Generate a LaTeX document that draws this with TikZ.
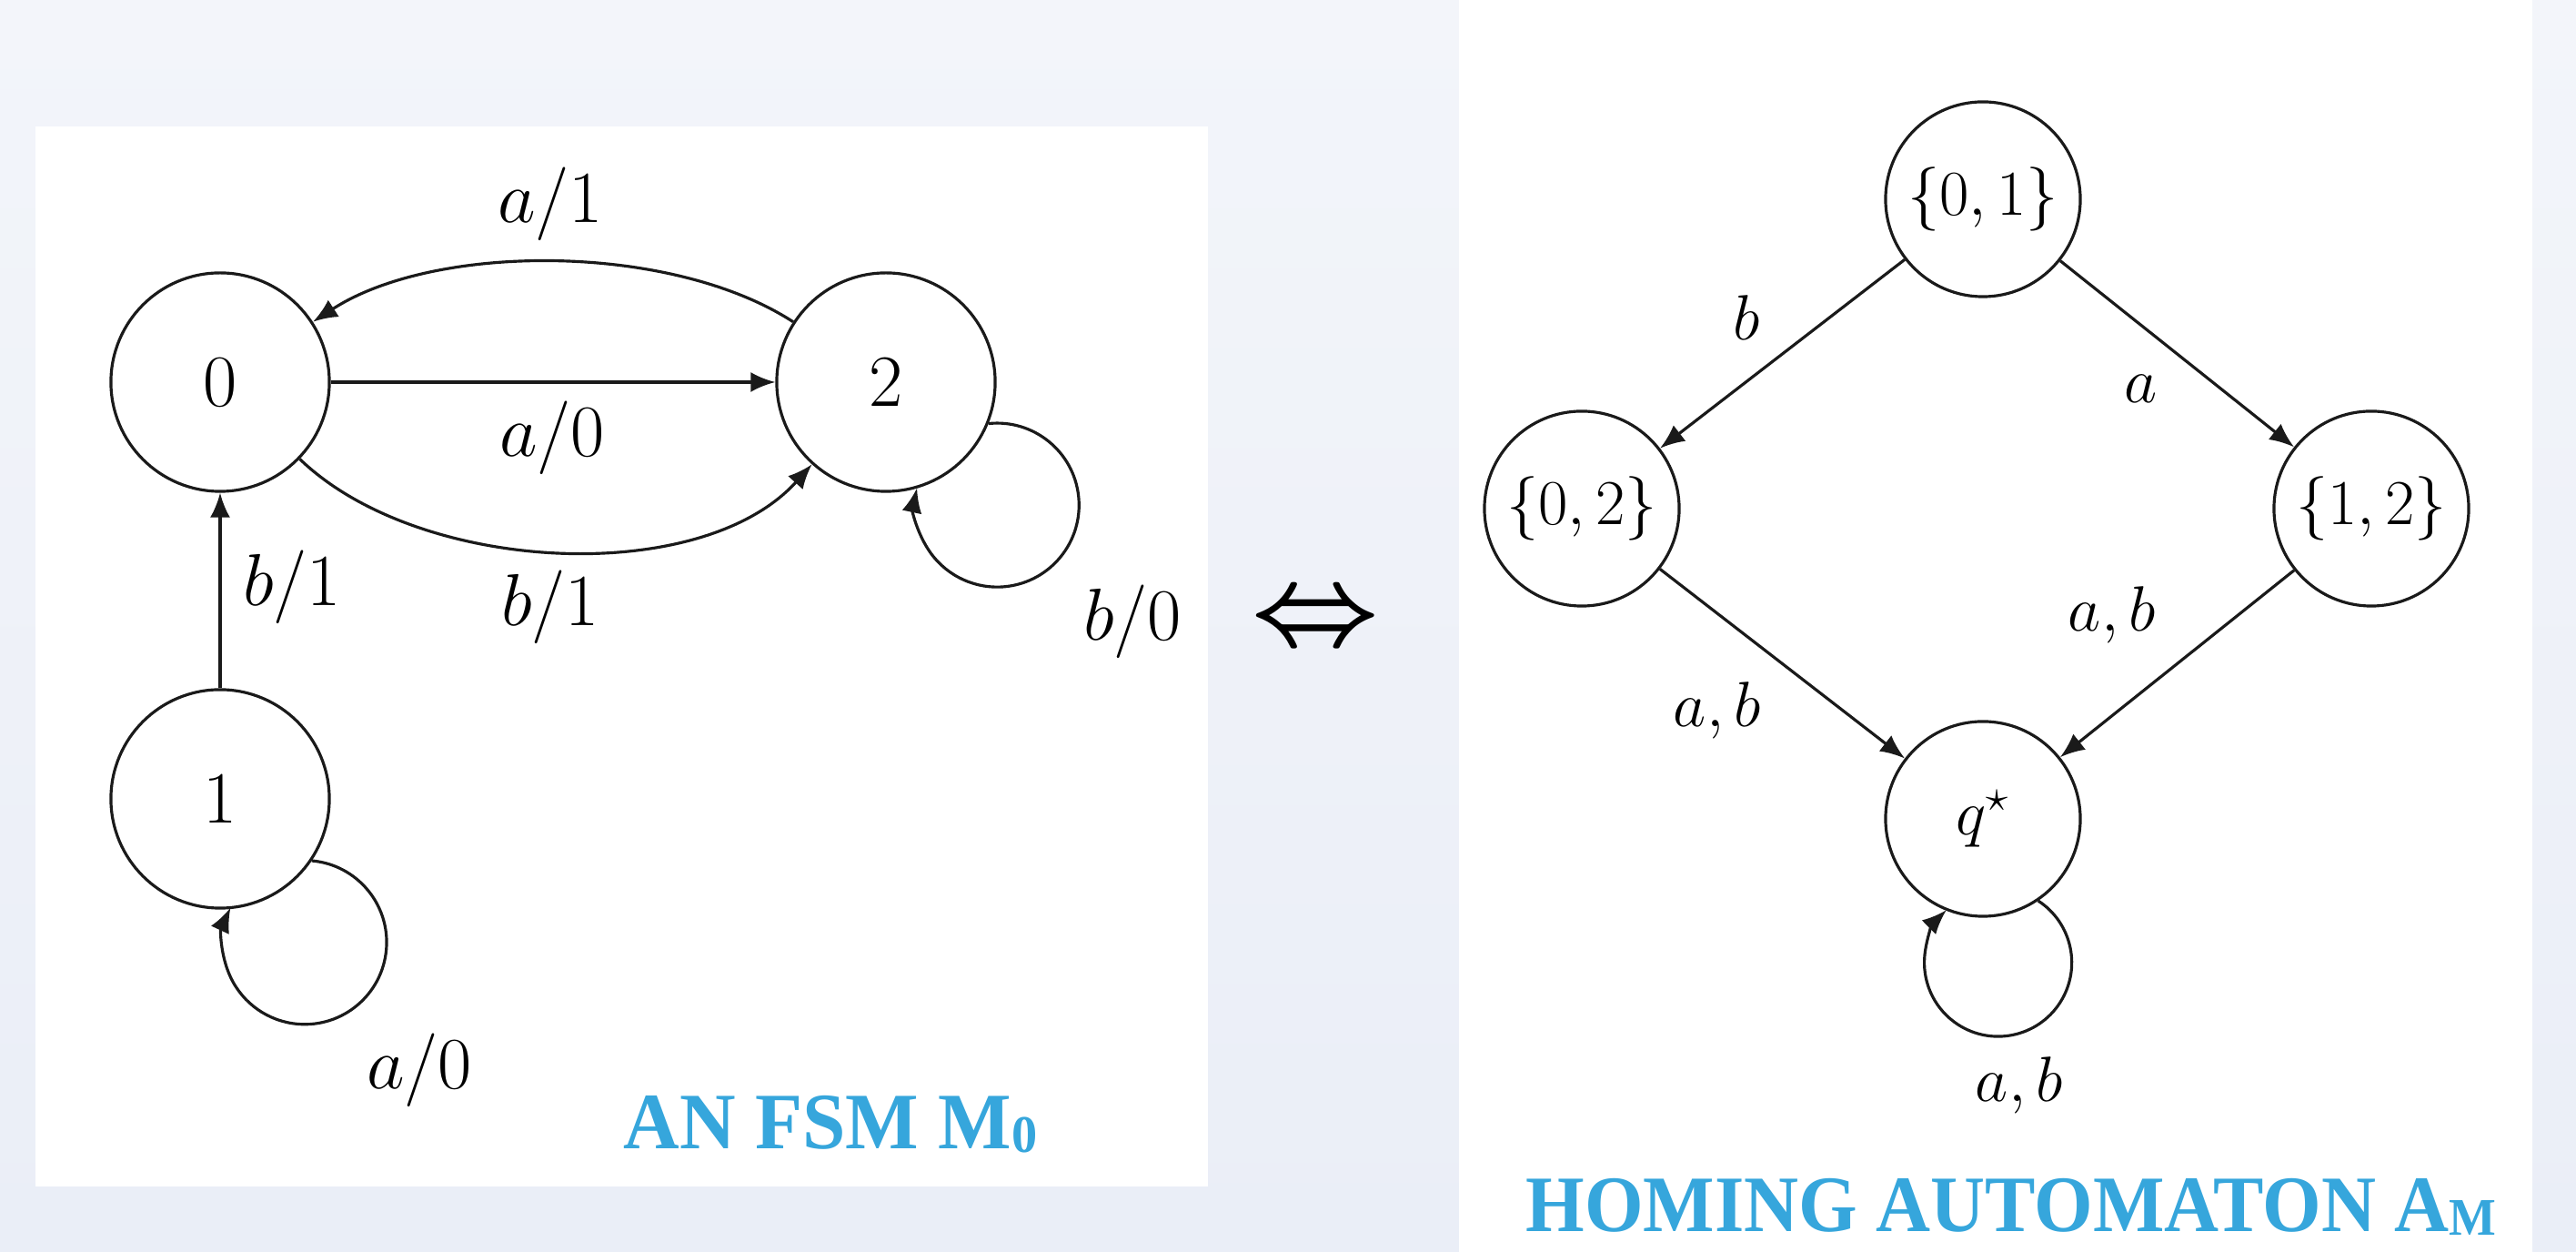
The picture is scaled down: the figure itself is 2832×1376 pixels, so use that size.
\RequirePackage{fix-cm}
\documentclass[tikz,border=0pt]{standalone}
\usepackage{amsmath}
\usepackage{graphicx}
\usepackage{fontspec}
\newfontfamily\titlefont{Liberation Serif}
\usetikzlibrary{arrows.meta}
\definecolor{titleblue}{HTML}{36A6DC}
\definecolor{bgtop}{HTML}{F3F5FA}
\definecolor{bgbot}{HTML}{EAEEF7}
\definecolor{ink}{HTML}{1A1A1A}
\begin{document}
\begin{tikzpicture}[x=0.01cm,y=0.01cm,
  lstate/.style={circle,draw=ink,line width=0.9pt,minimum size=2.4cm,inner sep=0pt,font=\fontsize{23}{27}\selectfont},
  rstate/.style={circle,draw=ink,line width=0.9pt,minimum size=2.14cm,inner sep=0pt,font=\fontsize{20}{24}\selectfont},
  edge/.style={draw=ink,line width=0.9pt,-{Latex[length=0.27cm,width=0.22cm]}},
  llab/.style={font=\fontsize{23}{27}\selectfont,inner sep=0pt},
  rlab/.style={font=\fontsize{20}{24}\selectfont,inner sep=0pt},
  title/.style={font=\titlefont\bfseries\fontsize{25}{30}\selectfont,text=titleblue,inner sep=0pt,anchor=base}]
\shade[top color=bgtop,bottom color=bgbot] (0,0) rectangle (2832,1376);
\useasboundingbox (0,0) rectangle (2832,1376);
\fill[white] (39,72) rectangle (1328,1237);
\fill[white] (1604,0) rectangle (2784,1376);

% left FSM
\node[lstate] (s0) at (242,956) {$0$};
\node[lstate] (s2) at (974,956) {$2$};
\node[lstate] (s1) at (242,498) {$1$};
\draw[edge] (s0) -- (s2);
\draw[edge] (s2) to[out=147,in=33,distance=1.6cm] (s0);
\draw[edge] (s0) to[out=-44,in=-132,distance=1.82cm] (s2);
\draw[edge] (s1) -- (s0);
\draw[edge] (s2.-22.2) arc[start angle=96,end angle=-192,radius=0.9cm];
\draw[edge] (s1.-34.7) arc[start angle=85,end angle=-205,radius=0.9cm];
\node[llab] (l1) at (605,1152) {$a/1$};
\node[llab] (l2) at (607,895) {$a/0$};
\node[llab] (l3) at (605,709) {$b/1$};
\node[llab] (l4) at (321,731) {$b/1$};
\node[llab] (l5) at (1245,693) {$b/0$};
\node[llab] (l6) at (461,200) {$a/0$};
\node[title] (t1) at (913,113) {\scalebox{0.97}[1]{AN FSM M\raisebox{-0.04cm}{\fontsize{16.5}{18}\selectfont 0}}};

% equivalence
\node[inner sep=0pt] (iff) at (1446,693) {\fontsize{35}{40}\selectfont$\boldsymbol{\Leftrightarrow}$};

% right homing automaton
\node[rstate] (r01) at (2180,1157) {$\{0,1\}$};
\node[rstate] (r02) at (1739,817) {$\{0,2\}$};
\node[rstate] (r12) at (2607,817) {$\{1,2\}$};
\node[rstate] (rq) at (2180,476) {$q^\star$};
\draw[edge] (r01) -- (r02);
\draw[edge] (r01) -- (r12);
\draw[edge] (r02) -- (rq);
\draw[edge] (r12) -- (rq);
\draw[edge] (rq.-56.3) arc[start angle=57,end angle=-225.5,radius=0.81cm];
\node[rlab] (m1) at (1920,1027) {$b$};
\node[rlab] (m2) at (2354,949) {$a$};
\node[rlab] (m3) at (1888,595) {$a,b$};
\node[rlab] (m4) at (2322,700) {$a,b$};
\node[rlab] (m5) at (2220,183) {$a,b$};
\node[title] (t2) at (2211,22) {\scalebox{0.945}[1]{HOMING AUTOMATON A\raisebox{-0.04cm}{\fontsize{16.5}{18}\selectfont M}}};
\end{tikzpicture}
\end{document}
